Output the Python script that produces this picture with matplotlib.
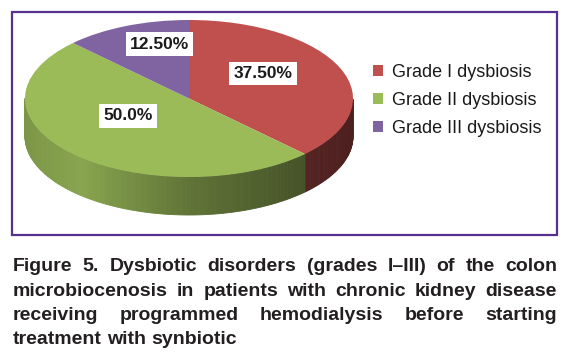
import matplotlib
matplotlib.use('Agg')
import matplotlib.pyplot as plt
import numpy as np
from matplotlib.patches import Rectangle, Polygon

# data
grades = ['Grade I dysbiosis', 'Grade II dysbiosis', 'Grade III dysbiosis']
shares = [37.5, 50.0, 12.5]
pct_labels = ['37.50%', '50.0%', '12.50%']
top_colors = ['#c0504d', '#9bbb59', '#8064a2']

caption = [
    'Figure 5. Dysbiotic disorders (grades I\u2013III) of the colon',
    'microbiocenosis in patients with chronic kidney disease',
    'receiving programmed hemodialysis before starting',
    'treatment with synbiotic',
]

plt.rcParams['font.family'] = ['Liberation Sans', 'DejaVu Sans']

W, H = 569, 361
fig = plt.figure(figsize=(W / 100, H / 100), dpi=100)


def fx(px):
    return px / W


def fy(py):
    return 1 - py / H


# pie ellipse in pixels
cx, cy, rx, ry, depth_px = 189, 98.5, 164, 78.5, 38
depth = depth_px / ry

# axes covering the left part of the box, scaled so 1 unit = rx / ry px
x0, x1, y0, y1 = 12, 370, 12, 235
ax = fig.add_axes([fx(x0), fy(y1), (x1 - x0) / W, (y1 - y0) / H])

# side walls (front half only), shaded by angle
theta_hi = 90.0
for share, col in zip(shares, top_colors):
    theta_lo = theta_hi - share * 3.6
    ts = np.linspace(theta_lo, theta_hi, int(abs(theta_hi - theta_lo)) + 2)
    base = np.array(matplotlib.colors.to_rgb(col))
    for a, b in zip(ts[:-1], ts[1:]):
        mid = np.radians((a + b) / 2)
        if np.sin(mid) >= 0:
            continue
        ra, rb = np.radians(a), np.radians(b)
        k = np.interp(np.cos(mid), [-1, -0.65, 0, 0.8, 1],
                      [0.80, 0.88, 0.62, 0.42, 0.40])
        c = np.clip(base * k, 0, 1)
        poly = Polygon([(np.cos(ra), np.sin(ra)), (np.cos(rb), np.sin(rb)),
                        (np.cos(rb), np.sin(rb) - depth),
                        (np.cos(ra), np.sin(ra) - depth)],
                       closed=True, facecolor=c, edgecolor=c, lw=0.6, zorder=1)
        ax.add_patch(poly)
    theta_hi = theta_lo

wedges, _ = ax.pie(shares, colors=top_colors, startangle=90, counterclock=False,
                   radius=1, center=(0, 0),
                   wedgeprops=dict(linewidth=0, zorder=3))
ax.set_aspect('auto')
ax.set_xlim((x0 - cx) / rx, (x1 - cx) / rx)
ax.set_ylim((cy - y1) / ry, (cy - y0) / ry)
ax.axis('off')

label_pos = [(0.45, 0.32), (-0.37, -0.22), (-0.18, 0.69)]
for (lx, ly), txt in zip(label_pos, pct_labels):
    ax.text(lx, ly, txt, ha='center', va='center', fontsize=12.5,
            fontweight='bold', color='#1a1a1a', zorder=5,
            bbox=dict(boxstyle='square,pad=0.25', fc='white', ec='none'))

fig.legend(wedges, grades, loc='upper left', bbox_to_anchor=(fx(373), fy(64)),
           frameon=False, borderpad=0, borderaxespad=0, handletextpad=0.5,
           handlelength=0.55, handleheight=0.55, labelspacing=0.6,
           prop=dict(size=13), labelcolor='#1a1a1a')

# border box
fig.add_artist(Rectangle((fx(12), fy(235)), (557 - 12) / W, (235 - 12) / H,
                         transform=fig.transFigure, fill=False,
                         edgecolor='#57308f', lw=1.6))

# justified caption
renderer = fig.canvas.get_renderer()
left, right = 13, 557
baselines = [271, 295.5, 320, 344.5]
for i, (line, yb) in enumerate(zip(caption, baselines)):
    words = line.split(' ')
    arts = [fig.text(0, fy(yb), w, fontsize=14, fontweight='bold',
                     color='#231f20', va='baseline', ha='left') for w in words]
    widths = [a.get_window_extent(renderer).width for a in arts]
    if i < len(caption) - 1:
        gap = (right - left - sum(widths)) / (len(words) - 1)
    else:
        sp = fig.text(0, 0, 'a a', fontsize=14, fontweight='bold')
        sa = fig.text(0, 0, 'aa', fontsize=14, fontweight='bold')
        gap = sp.get_window_extent(renderer).width - sa.get_window_extent(renderer).width
        sp.remove()
        sa.remove()
    x = left
    for a, w in zip(arts, widths):
        a.set_x(fx(x))
        x += w + gap

fig.savefig('out.png', dpi=100)
